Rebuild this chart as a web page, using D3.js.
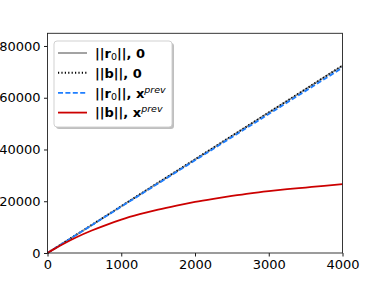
<!DOCTYPE html>
<html><head><meta charset="utf-8">
<script src="https://cdn.jsdelivr.net/npm/d3@7"></script>
<style>body{margin:0;background:#fff}svg{display:block}</style>
</head><body>
<svg id="c" width="381" height="285"></svg>
<script>
const iters = [0, 500, 1000, 1500, 2000, 2500, 3000, 3500, 4000];
const r0Zero   = [0, 9000, 18050, 27100, 36150, 45200, 54250, 63300, 72350];
const bZero    = [0, 9050, 18100, 27150, 36200, 45250, 54300, 63350, 72450];
const r0Prev   = [0, 8950, 17900, 26850, 35800, 44750, 53700, 62650, 71600];
const redX     = [0, 100, 200, 400, 600, 800, 1000, 1250, 1500, 1750, 2000, 2250, 2500, 2750, 3000, 3250, 3500, 3750, 4000];
const bPrev    = [0, 1700, 3300, 6200, 8700, 10900, 12900, 15000, 16800, 18350, 19750, 20950, 22050, 23050, 23900, 24650, 25300, 25950, 26650];
const xTicks = [0, 1000, 2000, 3000, 4000];
const yTicks = [0, 20000, 40000, 60000, 80000];

const svg = d3.select("#c");
const L = 47.5, R = 342.5, T = 33.3, B = 253;
const x = d3.scaleLinear().domain([0, 4000]).range([L, R]);
const y = d3.scaleLinear().domain([0, 84900]).range([B, T]);
const font = "DejaVu Sans";

const line = d3.line().x(d => x(d[0])).y(d => y(d[1])).curve(d3.curveMonotoneX);
const series = [
  {xs: iters, ys: r0Zero, color: "#999999", dash: null, w: 1.8},
  {xs: iters, ys: bZero, color: "#000000", dash: "1.2,2.2", w: 1.9},
  {xs: iters, ys: r0Prev, color: "#1f7fff", dash: "5,2.4", w: 1.8},
  {xs: redX, ys: bPrev, color: "#cc0000", dash: null, w: 1.8}
];
const g = svg.append("g");
series.forEach(s => {
  g.append("path").attr("d", line(s.xs.map((v, i) => [v, s.ys[i]])))
    .attr("fill", "none").attr("stroke", s.color).attr("stroke-width", s.w)
    .attr("stroke-dasharray", s.dash);
});

// axes
const xa = svg.append("g").attr("transform", `translate(0,${B})`)
  .call(d3.axisBottom(x).tickValues(xTicks).tickSize(3.5).tickPadding(3.5).tickFormat(d3.format("d")));
const ya = svg.append("g").attr("transform", `translate(${L},0)`)
  .call(d3.axisLeft(y).tickValues(yTicks).tickSize(3.5).tickPadding(3.5).tickFormat(d3.format("d")));
[xa, ya].forEach(a => {
  a.select(".domain").remove();
  a.selectAll("text").attr("font-family", font).attr("font-size", 13).attr("fill", "#000");
  a.selectAll("line").attr("stroke", "#000").attr("stroke-width", 0.9);
});
svg.append("rect").attr("x", L).attr("y", T).attr("width", R - L).attr("height", B - T)
  .attr("fill", "none").attr("stroke", "#222").attr("stroke-width", 0.9);

// legend
const lg = svg.append("g");
const lx = 54, ly = 41, lw = 118, lh = 86;
lg.append("rect").attr("x", lx + 2).attr("y", ly + 2).attr("width", lw).attr("height", lh)
  .attr("rx", 3).attr("fill", "#8a8a8a").attr("opacity", 0.55);
lg.append("rect").attr("x", lx).attr("y", ly).attr("width", lw).attr("height", lh)
  .attr("rx", 3).attr("fill", "#fff").attr("stroke", "#cccccc").attr("stroke-width", 0.9);
const rows = [53, 72.8, 92.8, 112.6];
const labels = [
  [{t: "||", b: 1}, {t: "r", b: 1}, {t: "0", sub: 1}, {t: "||, 0", b: 1}],
  [{t: "||b||, 0", b: 1}],
  [{t: "||", b: 1}, {t: "r", b: 1}, {t: "0", sub: 1}, {t: "||, ", b: 1}, {t: "x", b: 1}, {t: "prev", sup: 1}],
  [{t: "||b||, ", b: 1}, {t: "x", b: 1}, {t: "prev", sup: 1}]
];
series.forEach((s, i) => {
  lg.append("line").attr("x1", 58).attr("x2", 87).attr("y1", rows[i]).attr("y2", rows[i])
    .attr("stroke", s.color).attr("stroke-width", s.w).attr("stroke-dasharray", s.dash);
  const t = lg.append("text").attr("x", 95).attr("y", rows[i] + 4.7)
    .attr("font-family", font).attr("font-size", 13).attr("fill", "#000");
  labels[i].forEach((p, k) => {
    const sp = t.append("tspan").text(p.t);
    if (p.b) sp.attr("font-weight", "bold");
    if (p.sub) sp.attr("font-size", 9.5).attr("dy", 2.5);
    if (p.sup) sp.attr("font-size", 9.5).attr("font-style", "italic").attr("dy", -5);
    if (k > 0 && labels[i][k - 1].sub) sp.attr("dy", -2.5);
  });
});
</script>
</body></html>
